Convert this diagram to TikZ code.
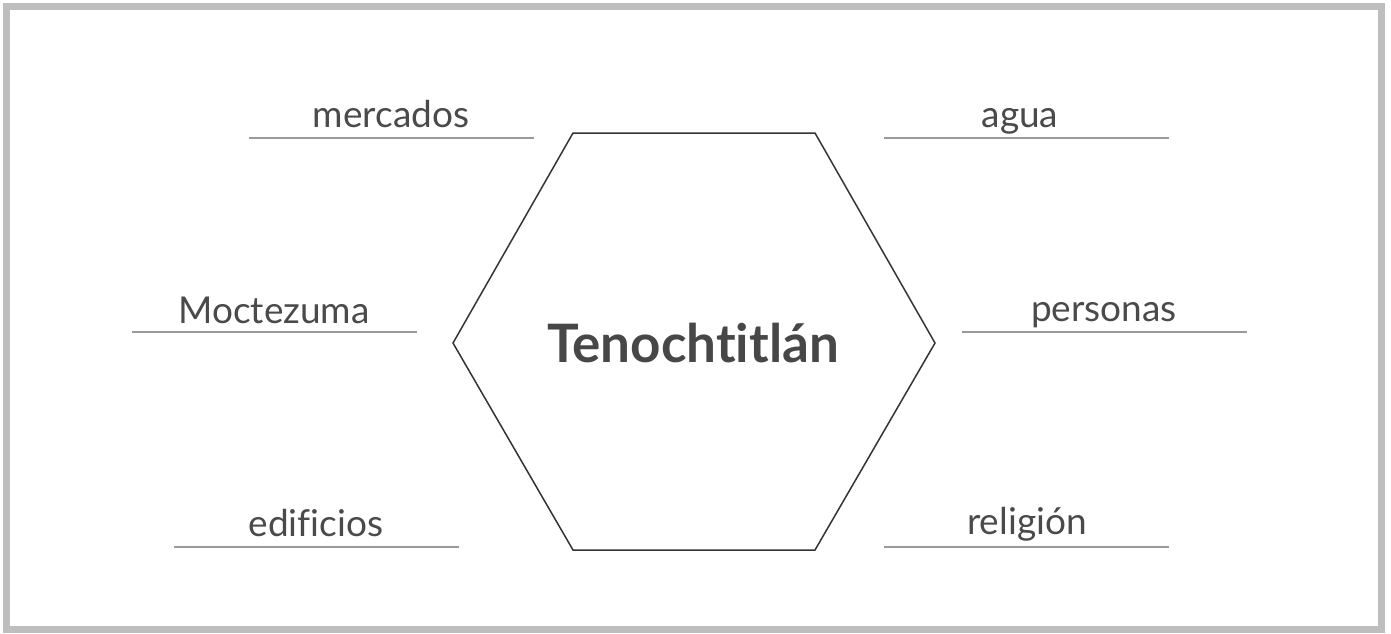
\documentclass[tikz,border=0pt]{standalone}
\usepackage{fontspec}
\setmainfont{Lato}[Ligatures=NoCommon]
\definecolor{frame}{HTML}{BEBEBE}
\definecolor{txt}{HTML}{4A4A4A}
\definecolor{rule}{HTML}{9A9A9A}
\definecolor{hex}{HTML}{333333}
\begin{document}
\begin{tikzpicture}[x=1pt,y=-1pt,
  lbl/.style={anchor=base,font=\fontsize{37}{44}\selectfont,text=txt,inner sep=0pt},
  rl/.style={draw=rule,line width=1.5pt}]
\useasboundingbox (0,0) rectangle (1391,633);
\draw[frame,line width=7pt] (6.5,6.5) rectangle (1381,629.5);
% hexagon
\coordinate (h1) at (573,133);
\coordinate (h2) at (815,133);
\coordinate (h3) at (935,343);
\coordinate (h4) at (815,550);
\coordinate (h5) at (573,550);
\coordinate (h6) at (453,343);
\draw[hex,line width=1.5pt,line join=miter] (h1)--(h2)--(h3)--(h4)--(h5)--(h6)--cycle;
\node[anchor=base,inner sep=0pt,text=hex!90!white,font=\fontsize{53}{60}\selectfont\bfseries] (title) at (693,362) {Tenochtitlán};
% labels
\coordinate (a1) at (249,138); \coordinate (a2) at (534,138);
\draw[rl] (a1)--(a2);
\node[lbl] (mercados) at (391,127) {mercados};
\coordinate (b1) at (884,138); \coordinate (b2) at (1169,138);
\draw[rl] (b1)--(b2);
\node[lbl] (agua) at (1020,127) {agua};
\coordinate (c1) at (132,332); \coordinate (c2) at (417,332);
\draw[rl] (c1)--(c2);
\node[lbl] (moctezuma) at (274,323) {Moctezuma};
\coordinate (d1) at (962,332); \coordinate (d2) at (1247,332);
\draw[rl] (d1)--(d2);
\node[lbl] (personas) at (1104,321) {personas};
\coordinate (e1) at (174,547); \coordinate (e2) at (459,547);
\draw[rl] (e1)--(e2);
\node[lbl] (edificios) at (316,536) {edificios};
\coordinate (f1) at (884,547); \coordinate (f2) at (1169,547);
\draw[rl] (f1)--(f2);
\node[lbl] (religion) at (1027,534) {religión};
\end{tikzpicture}
\end{document}
